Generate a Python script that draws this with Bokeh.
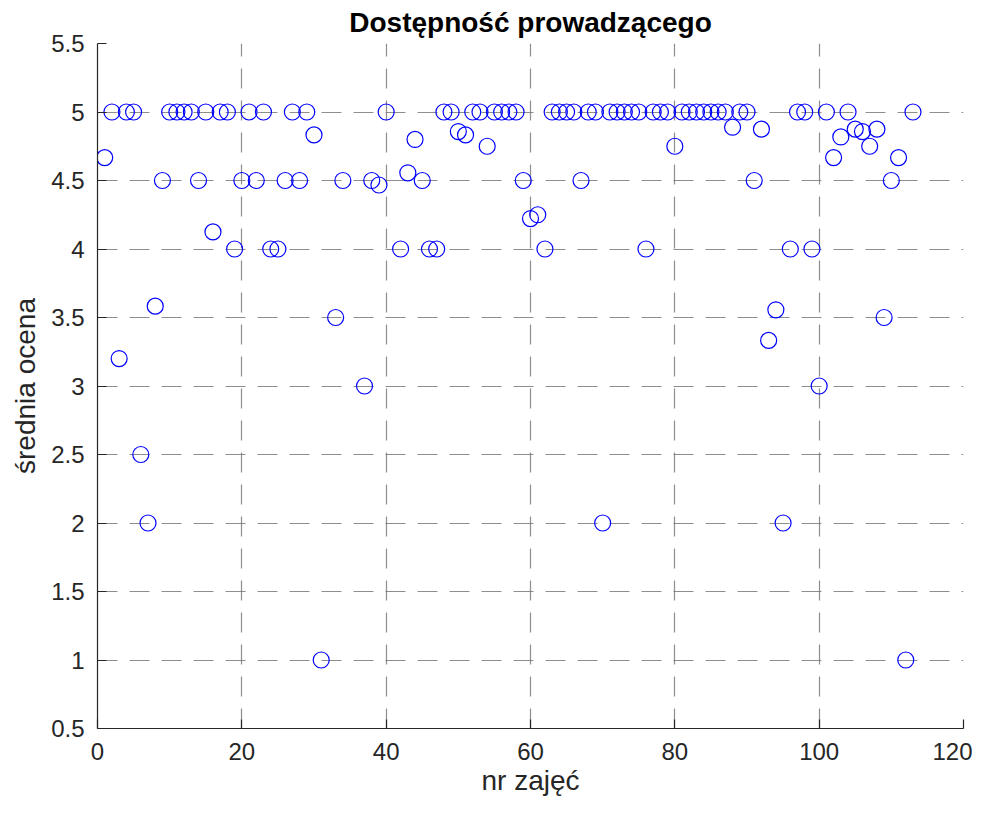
from bokeh.plotting import figure
from bokeh.models import FixedTicker, CustomJSTickFormatter, Range1d, ColumnDataSource
from bokeh.embed import file_html
from bokeh.resources import INLINE

# lesson numbers (some have no data)
lesson = [1, 2, 3, 4, 5, 6, 7, 8, 9, 10,
          11, 12, 13, 14, 15, 16, 17, 18, 19, 20,
          21, 22, 23, 24, 25, 26, 27, 28, 29, 30,
          31, 33, 34, 37, 38, 39, 40,
          42, 43, 44, 45, 46, 47, 48, 49, 50,
          51, 52, 53, 54, 55, 56, 57, 58, 59, 60,
          61, 62, 63, 64, 65, 66, 67, 68, 69, 70,
          71, 72, 73, 74, 75, 76, 77, 78, 79, 80,
          81, 82, 83, 84, 85, 86, 87, 88, 89, 90,
          91, 92, 93, 94, 95, 96, 97, 98, 99, 100,
          101, 102, 103, 104, 105, 106, 107, 108, 109, 110,
          111, 112, 113]

mean_score = [4.667, 5, 3.2, 5, 5, 2.5, 2, 3.583, 4.5, 5,
              5, 5, 5, 4.5, 5, 4.125, 5, 5, 4, 4.5,
              5, 4.5, 5, 4, 4, 4.5, 5, 4.5, 5, 4.833,
              1, 3.5, 4.5, 3, 4.5, 4.467, 5,
              4, 4.556, 4.8, 4.5, 4, 4, 5, 5, 4.857,
              4.833, 5, 5, 4.75, 5, 5, 5, 5, 4.5, 4.222,
              4.25, 4, 5, 5, 5, 5, 4.5, 5, 5, 2,
              5, 5, 5, 5, 5, 4, 5, 5, 5, 4.75,
              5, 5, 5, 5, 5, 5, 5, 4.889, 5, 5,
              4.5, 4.875, 3.333, 3.556, 2, 4, 5, 5, 4, 3,
              5, 4.667, 4.818, 5, 4.875, 4.857, 4.75, 4.875, 3.5, 4.5,
              4.667, 1, 5]

x_ticks = [0, 20, 40, 60, 80, 100, 120]
y_ticks = [0.5, 1, 1.5, 2, 2.5, 3, 3.5, 4, 4.5, 5, 5.5]

title_text = "Dostępność prowadzącego"
x_label = "nr zajęć"
y_label = "średnia ocena"

FONT = "Liberation Sans"
TXT = "#262626"

p = figure(width=972, height=798, output_backend="svg", toolbar_location=None,
           x_range=Range1d(0, 120), y_range=Range1d(0.5, 5.5),
           title=title_text)
p.min_border_left = 97
p.min_border_right = 9
p.min_border_top = 43
p.min_border_bottom = 70
p.outline_line_color = None
p.background_fill_color = "white"
p.border_fill_color = "white"

p.title.align = "center"
p.title.vertical_align = "middle"
p.title.text_font = FONT
p.title.text_font_size = "28px"
p.title.text_font_style = "bold"
p.title.text_color = "black"

src = ColumnDataSource(dict(x=lesson, y=mean_score))
p.scatter("x", "y", source=src, marker="circle", size=16, fill_color=None,
          line_color="#0000FF", line_width=1.2)

for ax, ticks, lab in ((p.xaxis[0], x_ticks, x_label), (p.yaxis[0], y_ticks, y_label)):
    ax.ticker = FixedTicker(ticks=ticks)
    ax.formatter = CustomJSTickFormatter(code="return String(tick);")
    ax.axis_label = lab
    ax.axis_label_text_font = FONT
    ax.axis_label_text_font_size = "28px"
    ax.axis_label_text_font_style = "normal"
    ax.axis_label_text_color = TXT
    ax.major_label_text_font = FONT
    ax.major_label_text_font_size = "24px"
    ax.major_label_text_color = TXT
    ax.axis_line_color = TXT
    ax.axis_line_width = 1.2
    ax.major_tick_line_color = TXT
    ax.major_tick_line_width = 1.2
    ax.major_tick_in = 9
    ax.major_tick_out = 0
    ax.minor_tick_line_color = None

p.xaxis[0].major_label_standoff = 14
p.yaxis[0].major_label_standoff = 13
p.xaxis[0].axis_label_standoff = 2
p.yaxis[0].axis_label_standoff = 7

for g in (p.xgrid[0], p.ygrid[0]):
    g.grid_line_color = "#7a7a7a"
    g.grid_line_alpha = 0.85
    g.grid_line_dash = "20 12"
    g.grid_line_width = 1.2

open("out.html", "w").write(file_html(p, INLINE))
